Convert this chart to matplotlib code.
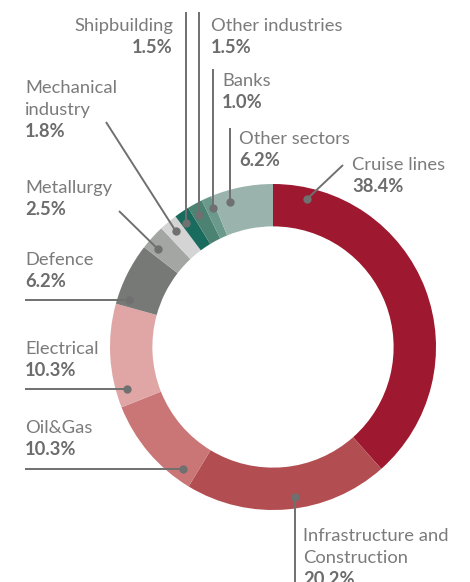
import numpy as np
import matplotlib.pyplot as plt

sectors = ['Cruise lines', 'Infrastructure and\nConstruction', 'Oil&Gas', 'Electrical',
           'Defence', 'Metallurgy', 'Mechanical\nindustry', 'Shipbuilding',
           'Other industries', 'Banks', 'Other sectors']
shares = [38.4, 20.2, 10.3, 10.3, 6.2, 2.5, 1.8, 1.5, 1.5, 1.0, 6.2]
colors = ['#9e1830', '#b24e51', '#ca7677', '#e0a6a5', '#777977', '#a4a6a4',
          '#d3d4d3', '#186b5d', '#4b8272', '#6b9a8d', '#9ab4ad']

W, H = 470, 582
CX, CY, R = 273, 347, 163  # pie centre and radius in pixels


def px(x, y):
    # pixel position (top-left origin) -> data units of the pie
    return (x - CX) / R, (CY - y) / R


plt.rcParams['font.family'] = 'Lato'
fig = plt.figure(figsize=(W / 100, H / 100), dpi=100)
ax = fig.add_axes([0, 0, 1, 1])

ax.pie(shares, colors=colors, startangle=90, counterclock=False, radius=1,
       wedgeprops=dict(width=0.26, linewidth=0))

ax.set_xlim(px(0, 0)[0], px(W, 0)[0])
ax.set_ylim(px(0, H)[1], px(0, 0)[1])
ax.set_aspect('equal')
ax.axis('off')

TXT = '#7b7b7b'
PCT = '#6c6c6c'
LINE = '#6f706f'
FS = 13.2
STEP = 22

# label layout: (name baseline x, y, alignment, dot angle, leader end)
layout = {
    'Cruise lines': (352, 170, 'left', 77.1, ('pt', 343, 165)),
    'Infrastructure and\nConstruction': (303, 541, 'left', -81.8, ('v', 600)),
    'Oil&Gas': (25, 433, 'left', -126.6, ('h', 25)),
    'Electrical': (25, 354, 'left', -164.1, ('h', 25)),
    'Defence': (25, 265, 'left', 161.9, ('h', 25)),
    'Metallurgy': (25, 193, 'left', 139.6, ('pt', 119, 211)),
    'Mechanical\nindustry': (25, 93, 'left', 130.0, ('pt', 106, 122)),
    'Shipbuilding': (173, 31, 'right', 125.0, ('v', 12)),
    'Other industries': (211, 31, 'left', 119.4, ('v', 12)),
    'Banks': (222, 86, 'left', 113.5, ('v', 69)),
    'Other sectors': (239, 144, 'left', 106.5, ('v', 128)),
}

for name, share in zip(sectors, shares):
    tx, ty, ha, ang, end = layout[name]
    lines = name.split('\n')
    for i, ln in enumerate(lines):
        ax.text(*px(tx, ty + i * STEP), ln, ha=ha, va='baseline',
                fontsize=FS, color=TXT)
    ax.text(*px(tx, ty + len(lines) * STEP), f'{share:.1f}%', ha=ha,
            va='baseline', fontsize=FS, color=PCT, fontweight='bold')

    # leader line from the ring to the label
    r_dot = 0.93
    dx = r_dot * np.cos(np.radians(ang))
    dy = r_dot * np.sin(np.radians(ang))
    if end[0] == 'v':
        ex, ey = dx, px(0, end[1])[1]
    elif end[0] == 'h':
        ex, ey = px(end[1], 0)[0], dy
    else:
        ex, ey = px(end[1], end[2])
    ax.plot([dx, ex], [dy, ey], color=LINE, lw=1.4, solid_capstyle='butt')
    ax.plot(dx, dy, 'o', color=LINE, ms=6, mew=0)

fig.savefig('out.png', dpi=100)
